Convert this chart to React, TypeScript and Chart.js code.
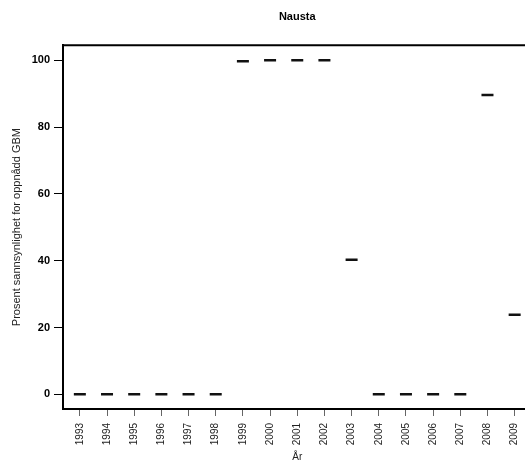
import React, { useEffect, useRef } from "react";
import { Chart, registerables } from "chart.js";

Chart.register(...registerables);

const years = [1993, 1994, 1995, 1996, 1997, 1998, 1999, 2000, 2001, 2002, 2003, 2004, 2005, 2006, 2007, 2008, 2009];
const probability = [0, 0, 0, 0, 0, 0, 99.7, 100, 100, 100, 40.3, 0, 0, 0, 0, 89.6, 23.8];
const yTicks = [0, 20, 40, 60, 80, 100];

const titleText = "Nausta";
const xTitle = "År";
const yTitle = "Prosent sannsynlighet for oppnådd GBM";

const FONT = "'Liberation Sans', Arial, Helvetica, sans-serif";

const topBorder = {
  id: "topBorder",
  afterDraw(chart: any) {
    const { ctx, chartArea } = chart;
    ctx.save();
    ctx.strokeStyle = "#000";
    ctx.lineWidth = 2;
    ctx.beginPath();
    ctx.moveTo(chartArea.left - 1, chartArea.top);
    ctx.lineTo(chartArea.right, chartArea.top);
    ctx.stroke();
    ctx.restore();
  },
};

export default function App() {
  const ref = useRef<HTMLCanvasElement | null>(null);

  useEffect(() => {
    if (!ref.current) return;
    const chart = new Chart(ref.current, {
      type: "scatter",
      data: {
        datasets: [
          {
            data: years.map((y, i) => ({ x: y, y: probability[i] })),
            pointStyle: "line",
            pointRadius: 6,
            pointHoverRadius: 6,
            pointBorderWidth: 2.5,
            borderColor: "#111",
            backgroundColor: "#111",
            showLine: false,
          },
        ],
      },
      options: {
        animation: false,
        responsive: false,
        maintainAspectRatio: false,
        layout: { padding: { left: 0, right: 7, top: 0, bottom: 0 } },
        plugins: {
          legend: { display: false },
          tooltip: { enabled: false },
          title: {
            display: true,
            text: titleText,
            fullSize: false,
            color: "#000",
            font: { family: FONT, size: 11, weight: "bold", lineHeight: 1.2 },
            padding: { top: 10, bottom: 22 },
          },
        },
        scales: {
          x: {
            type: "linear",
            min: 1992.38,
            max: 2009.62,
            afterBuildTicks: (scale: any) => {
              scale.ticks = years.map((v) => ({ value: v }));
            },
            afterFit: (scale: any) => {
              scale.height = 53;
            },
            border: { display: true, color: "#000", width: 2 },
            grid: {
              display: true,
              drawOnChartArea: false,
              drawTicks: true,
              tickLength: 7,
              color: "#666",
              lineWidth: 1,
            },
            ticks: {
              autoSkip: false,
              minRotation: 90,
              maxRotation: 90,
              padding: 7,
              color: "#222",
              font: { family: FONT, size: 10 },
              callback: (v: any) => String(v),
            },
            title: {
              display: true,
              text: xTitle,
              color: "#222",
              font: { family: FONT, size: 10, lineHeight: 1 },
              padding: { top: 0, bottom: 0 },
            },
          },
          y: {
            type: "linear",
            min: -4.4,
            max: 104.5,
            afterBuildTicks: (scale: any) => {
              scale.ticks = yTicks.map((v) => ({ value: v }));
            },
            afterFit: (scale: any) => {
              scale.width = 63;
            },
            border: { display: true, color: "#000", width: 2 },
            grid: {
              display: true,
              drawOnChartArea: false,
              drawTicks: true,
              tickLength: 9,
              color: "#000",
              lineWidth: 1,
            },
            ticks: {
              padding: 4,
              color: "#000",
              font: { family: FONT, size: 11, weight: "bold" },
              callback: (v: any) => String(v),
            },
            title: {
              display: true,
              text: yTitle,
              color: "#222",
              font: { family: FONT, size: 11, lineHeight: 1.2 },
              padding: { top: 10, bottom: 0 },
            },
          },
        },
      },
      plugins: [topBorder],
    });
    return () => chart.destroy();
  }, []);

  return (
    <div
      style={{
        position: "fixed",
        left: 0,
        top: 0,
        width: 525,
        height: 462,
        overflow: "hidden",
        background: "#fff",
      }}
    >
      <canvas ref={ref} width={540} height={462} style={{ display: "block", width: 540, height: 462 }} />
    </div>
  );
}
